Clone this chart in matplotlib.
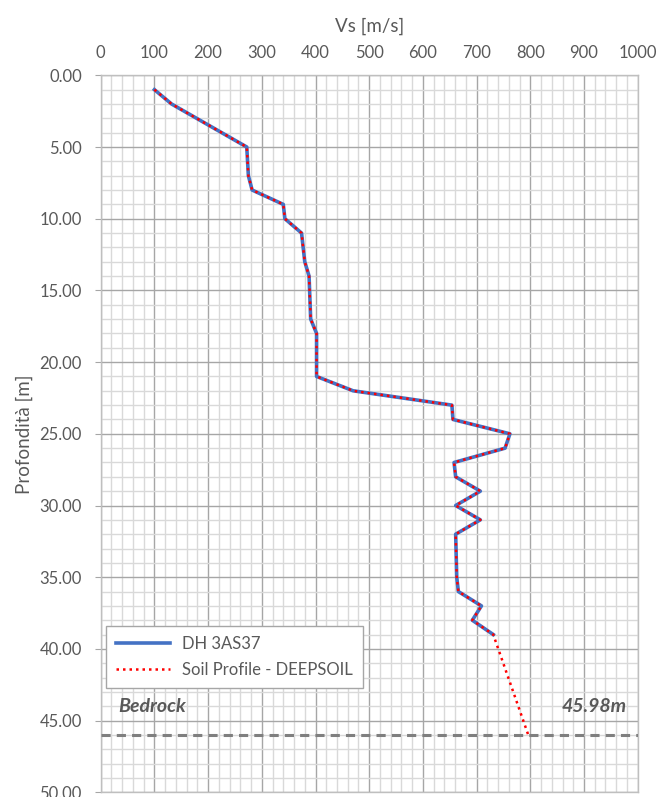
import matplotlib
matplotlib.use("Agg")
import matplotlib.pyplot as plt
from matplotlib.ticker import MultipleLocator, FormatStrFormatter

plt.rcParams['font.family'] = ['Lato', 'DejaVu Sans']

# depth [m] and shear wave velocity [m/s]
depth_dh = [1, 2, 5, 7, 8, 9, 10, 11, 13, 14, 17, 18, 21, 22, 23, 24, 25, 26,
            27, 28, 29, 30, 31, 32, 35, 36, 37, 38, 39]
vs_dh = [100, 132, 272, 275, 282, 340, 343, 374, 380, 388, 391, 402, 402, 470,
         654, 656, 762, 753, 658, 661, 707, 661, 707, 661, 663, 666, 709, 692, 731]

depth_soil = depth_dh + [45.98]
vs_soil = vs_dh + [796]

bedrock_depth = 45.98

grey_txt = '#595959'

fig = plt.figure(figsize=(6.59, 7.97), dpi=100)
ax = fig.add_axes([0.1528, 0.0059, 0.8149, 0.8996])

ax.plot(vs_dh, depth_dh, color='#4472C4', lw=2.6, label='DH 3AS37', zorder=4)
ax.plot(vs_soil, depth_soil, color='#FF0000', lw=1.8, ls=(0, (1, 1.6)),
        label='Soil Profile - DEEPSOIL', zorder=5)
ax.axhline(bedrock_depth, color='#7F7F7F', lw=2.2, ls=(0, (3, 2)), zorder=3)

ax.text(32, 44.0, 'Bedrock', fontsize=14, fontweight='bold',
        fontstyle='italic', color=grey_txt, va='center', ha='left')
ax.text(980, 44.0, '45.98m', fontsize=14, fontweight='bold',
        fontstyle='italic', color=grey_txt, va='center', ha='right')

ax.set_xlim(0, 1000)
ax.set_ylim(50, 0)

ax.xaxis.set_major_locator(MultipleLocator(100))
ax.xaxis.set_minor_locator(MultipleLocator(20))
ax.yaxis.set_major_locator(MultipleLocator(5))
ax.yaxis.set_minor_locator(MultipleLocator(1))
ax.yaxis.set_major_formatter(FormatStrFormatter('%.2f'))

ax.xaxis.tick_top()
ax.xaxis.set_label_position('top')
ax.tick_params(axis='x', which='both', length=0, labelsize=12, colors=grey_txt, pad=10)
ax.tick_params(axis='y', which='major', length=4, color='#A6A6A6',
               labelsize=12, labelcolor=grey_txt, pad=9.5)
ax.tick_params(axis='y', which='minor', length=0)

ax.grid(which='major', color='#A6A6A6', lw=1.0)
ax.grid(which='minor', color='#D9D9D9', lw=1.0)
ax.set_axisbelow(True)

for s in ax.spines.values():
    s.set_color('#BFBFBF')
    s.set_linewidth(1.0)

ax.set_xlabel('Vs [m/s]', fontsize=13.5, color=grey_txt, labelpad=9.5)
ax.set_ylabel('Profondità [m]', fontsize=13.5, color=grey_txt, labelpad=5)

leg = ax.legend(loc='upper left', bbox_to_anchor=(0.0099, 0.232), fontsize=12,
                frameon=True, fancybox=False, edgecolor='#A6A6A6',
                framealpha=1, labelcolor=grey_txt, handlelength=3.25,
                handletextpad=0.7, borderpad=0.6, labelspacing=0.62,
                borderaxespad=0)
leg.get_frame().set_linewidth(1.0)

fig.savefig('out.png', dpi=100)
